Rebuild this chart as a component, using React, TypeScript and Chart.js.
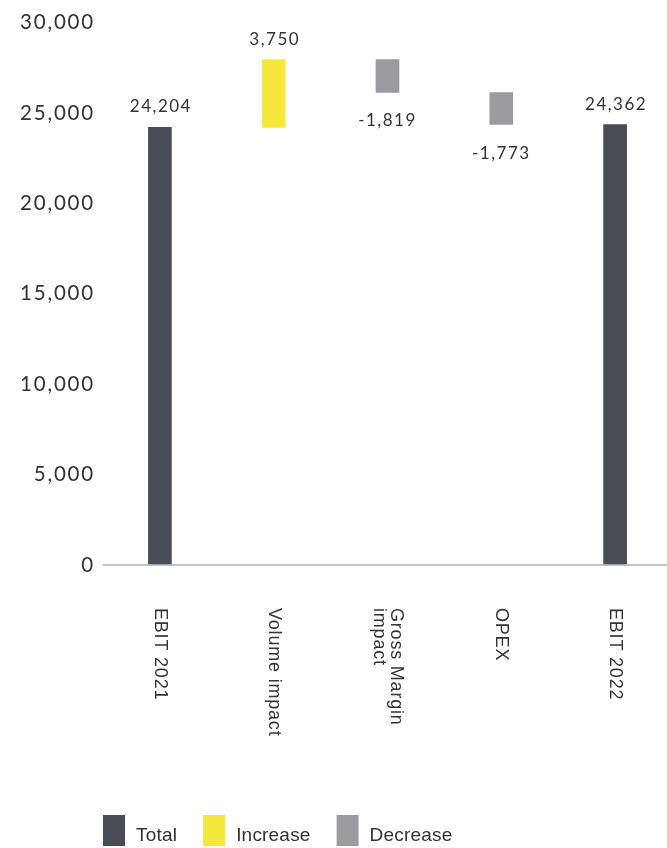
import React, { useEffect, useRef } from 'react';
import { Chart, registerables } from 'chart.js';

Chart.register(...registerables);

const categories: (string | string[])[] = ['EBIT 2021', 'Volume impact', ['Gross Margin', 'impact'], 'OPEX', 'EBIT 2022'];
const changes: number[] = [24204, 3750, -1819, -1773, 24362];
const kinds: string[] = ['total', 'increase', 'decrease', 'decrease', 'total'];
const yTicks: number[] = [0, 5000, 10000, 15000, 20000, 25000, 30000];
const legendKinds: string[] = ['total', 'increase', 'decrease'];
const legendLabels: string[] = ['Total', 'Increase', 'Decrease'];

const COLORS: Record<string, string> = {
  total: '#4a4c55',
  increase: '#f6e73c',
  decrease: '#9a9ca0',
};

const fmt = (v: number) => v.toLocaleString('en-US');

function buildRanges(): [number, number][] {
  let run = 0;
  return changes.map((v, i) => {
    if (kinds[i] === 'total') {
      run = v;
      return [0, v] as [number, number];
    }
    const s = run;
    run += v;
    return [s, run] as [number, number];
  });
}

const overlayPlugin = {
  id: 'overlay',
  beforeDraw(chart: any) {
    chart.ctx.letterSpacing = '1.8px';
  },
  afterDraw(chart: any) {
    const ctx = chart.ctx as CanvasRenderingContext2D;
    const meta = chart.getDatasetMeta(0);
    // value labels
    ctx.save();
    (ctx as any).letterSpacing = '1.5px';
    ctx.font = '17px Lato';
    ctx.fillStyle = '#333333';
    ctx.textAlign = 'center';
    ctx.textBaseline = 'alphabetic';
    meta.data.forEach((bar: any, i: number) => {
      const top = Math.min(bar.y, bar.base);
      const bottom = Math.max(bar.y, bar.base);
      const txt = fmt(changes[i]);
      if (changes[i] >= 0) {
        ctx.fillText(txt, bar.x + 1, top - 15);
      } else {
        ctx.fillText(txt, bar.x, bottom + 34);
      }
    });
    ctx.restore();

    // category labels (rotated clockwise)
    const xs = chart.scales.x;
    const labelTop = chart.chartArea.bottom + 43;
    ctx.save();
    (ctx as any).letterSpacing = '0.8px';
    ctx.font = '18px "Liberation Sans"';
    ctx.fillStyle = '#333333';
    ctx.textAlign = 'left';
    ctx.textBaseline = 'middle';
    categories.forEach((c, i) => {
      const lines = Array.isArray(c) ? c : [c];
      const x = xs.getPixelForValue(i);
      ctx.save();
      ctx.translate(x, labelTop);
      ctx.rotate(Math.PI / 2);
      const L = 17;
      lines.forEach((ln, j) => {
        ctx.fillText(ln, 0, (j - (lines.length - 1) / 2) * L);
      });
      ctx.restore();
    });
    ctx.restore();

    // legend
    ctx.save();
    (ctx as any).letterSpacing = '0.2px';
    ctx.font = '19px "Liberation Sans"';
    ctx.textAlign = 'left';
    ctx.textBaseline = 'alphabetic';
    let lx = chart.chartArea.left;
    const boxTop = 815;
    legendKinds.forEach((k, i) => {
      ctx.fillStyle = COLORS[k];
      ctx.fillRect(lx, boxTop, 22, 31);
      ctx.fillStyle = '#333333';
      const tx = lx + 33;
      ctx.fillText(legendLabels[i], tx, 841);
      lx = tx + ctx.measureText(legendLabels[i]).width + 26;
    });
    ctx.restore();
  },
};

export default function App() {
  const ref = useRef<HTMLCanvasElement | null>(null);

  useEffect(() => {
    if (!ref.current) return;
    const ranges = buildRanges();
    const chart = new Chart(ref.current, {
      type: 'bar',
      data: {
        labels: categories as any,
        datasets: [
          {
            data: ranges as any,
            backgroundColor: kinds.map((k) => COLORS[k]),
            borderWidth: 0,
            barThickness: 23,
          },
        ],
      },
      options: {
        responsive: false,
        maintainAspectRatio: false,
        animation: false,
        layout: { padding: { top: 22.6, right: 0, bottom: 283, left: 0 } },
        plugins: {
          legend: { display: false },
          tooltip: { enabled: false },
        },
        scales: {
          x: {
            display: false,
          },
          y: {
            min: 0,
            max: 30000,
            afterFit: (scale: any) => {
              scale.width = 103;
            },
            afterBuildTicks: (scale: any) => {
              scale.ticks = yTicks.map((v) => ({ value: v }));
            },
            ticks: {
              padding: 8,
              color: '#333333',
              font: { family: 'Lato', size: 20.5 },
              callback: (v: any) => fmt(Number(v)),
            },
            grid: {
              drawTicks: false,
              lineWidth: 2,
              color: (c: any) => (c.tick && c.tick.value === 0 ? '#c2c2c2' : 'rgba(0,0,0,0)'),
            },
            border: { display: false },
          },
        },
      },
      plugins: [overlayPlugin],
    });
    return () => chart.destroy();
  }, []);

  return (
    <div
      style={{
        position: 'absolute',
        left: 0,
        top: 0,
        width: 667,
        height: 848,
        overflow: 'hidden',
        background: '#ffffff',
      }}
    >
      <canvas ref={ref} width={672} height={848} style={{ display: 'block', width: 672, height: 848 }} />
    </div>
  );
}
